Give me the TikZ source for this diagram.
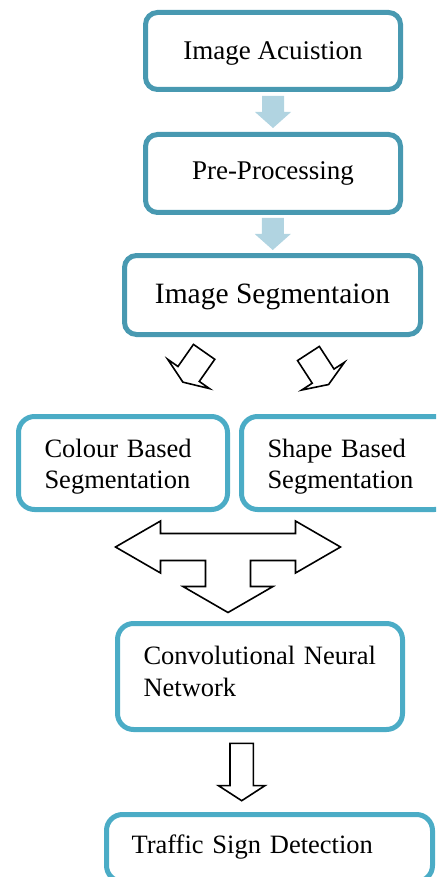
\documentclass[tikz,border=0pt]{standalone}
\usepackage{fontspec}
\setmainfont{Liberation Serif}
\usetikzlibrary{calc}
\definecolor{boxdark}{RGB}{72,153,177}
\definecolor{boxlight}{RGB}{75,172,198}
\definecolor{arrowblue}{RGB}{177,212,225}

\begin{document}
\begin{tikzpicture}[x=1pt, y=-1pt,
    topbox/.style={draw=boxdark, line width=5pt, rounded corners=12pt, text height=19pt, font=\fontsize{27}{32}\selectfont},
    lowbox/.style={draw=boxlight, line width=5pt, rounded corners=16pt, inner xsep=26pt, inner ysep=4pt, align=left, text height=18pt, font=\fontsize{26.5}{31}\selectfont},
    hollow/.style={draw=black, line width=1.6pt, fill=white},
    bluearrow/.pic={\fill[arrowblue] (-11,-16) -- (11,-16) -- (11,0) -- (18,0) -- (0,16) -- (-18,0) -- (-11,0) -- cycle;},
    tiltarrow/.pic={\draw[hollow] (-13,-18.5) -- (13,-18.5) -- (13,8.5) -- (25.5,8.5) -- (0,18.5) -- (-25.5,8.5) -- (-13,8.5) -- cycle;},
    downarrow/.pic={\draw[hollow] (-11.7,-28.7) -- (11.7,-28.7) -- (11.7,13.6) -- (23.3,13.6) -- (0,28.7) -- (-23.3,13.6) -- (-11.7,13.6) -- cycle;},
    teearrow/.pic={\draw[hollow] (-112.5,0) -- (-67.5,-26) -- (-67.5,-13.5) -- (67.5,-13.5) -- (67.5,-26) -- (112.5,0) -- (67.5,26) -- (67.5,13.5) -- (22.5,13.5) -- (22.5,39.5) -- (45,39.5) -- (0,65.5) -- (-45,39.5) -- (-22.5,39.5) -- (-22.5,13.5) -- (-67.5,13.5) -- (-67.5,26) -- cycle;}]
    \useasboundingbox (0,0) rectangle (436,877);
    \clip (0,0) rectangle (436,877);
    % top chain
    \node[topbox, minimum width=255pt, minimum height=77pt, text depth=1pt] (acq) at (273,51) {Image Acuistion};
    \node[topbox, minimum width=255pt, minimum height=78pt, text depth=6pt] (pre) at (273,173.5) {Pre-Processing};
    \node[topbox, minimum width=296pt, minimum height=79pt, text height=20pt, text depth=4pt, font=\fontsize{29.5}{35}\selectfont] (seg) at (272.5,295) {Image Segmentaion};
    \pic at ($(acq.south)!0.5!(pre.north)$) {bluearrow};
    \pic at ($(pre.south)!0.5!(seg.north)$) {bluearrow};
    % split into colour and shape
    \pic[rotate=-35] at ($(seg.south)+(-79,30)$) {tiltarrow};
    \pic[rotate=33] at ($(seg.south)+(46,32)$) {tiltarrow};
    \node[lowbox, minimum width=209pt, minimum height=93pt, text width=157pt, text depth=30pt] (col) at (123,463) {Colour Based\\Segmentation};
    \node[lowbox, minimum width=209pt, minimum height=93pt, text width=157pt, text depth=30pt] (shp) at (346,463) {Shape Based\\Segmentation};
    % merge into the network
    \pic at ($(col.south east)!0.5!(shp.south west)+(-6.5,35)$) {teearrow};
    \node[lowbox, minimum width=285pt, minimum height=106pt, text width=233pt, text depth=43pt, font=\fontsize{26.5}{32.5}\selectfont] (cnn) at (260,676.5) {Convolutional Neural\\Network};
    \pic at ($(cnn.south)+(-18.3,40)$) {downarrow};
    \node[lowbox, minimum width=326pt, minimum height=67pt, inner xsep=25pt, text width=276pt, text depth=8pt] (tsd) at (269.5,848) {Traffic Sign Detection};
\end{tikzpicture}
\end{document}
